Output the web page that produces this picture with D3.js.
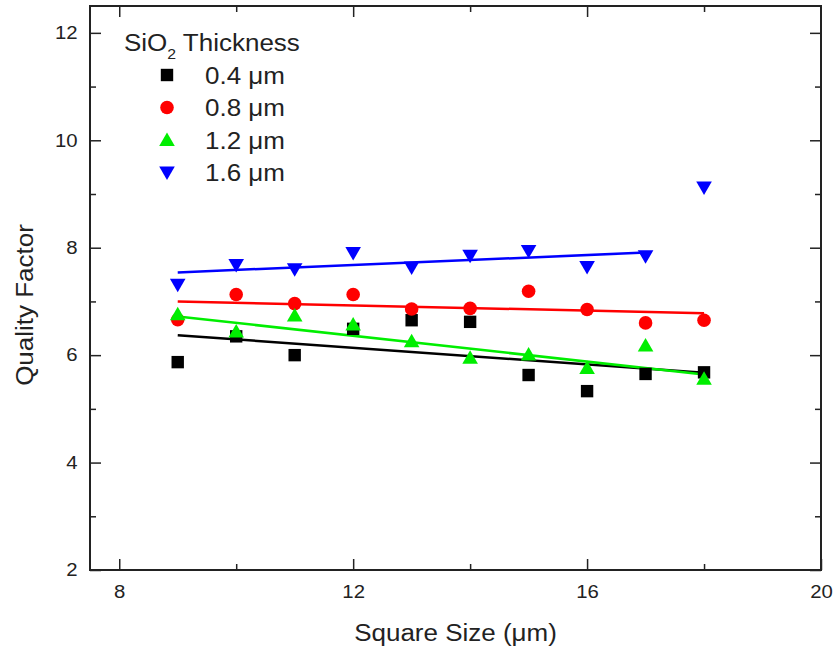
<!DOCTYPE html>
<html>
<head>
<meta charset="utf-8">
<script src="https://cdn.jsdelivr.net/npm/d3@7"></script>
<style>
	body { margin: 0; background: #fff; }
	text { font-family: "Liberation Sans", Arial, sans-serif; fill: #222; }
</style>
</head>
<body>
<svg id="chart" width="834" height="650"></svg>
<script>
// square sizes (x) shared by all series
var sizes = [9, 10, 11, 12, 13, 14, 15, 16, 17, 18];

// quality factor per SiO2 thickness
var q04 = [5.87, 6.35, 6.00, 6.49, 6.65, 6.62, 5.63, 5.33, 5.65, 5.68];
var q08 = [6.66, 7.13, 6.96, 7.13, 6.86, 6.87, 7.19, 6.85, 6.60, 6.65];
var q12 = [6.76, 6.44, 6.74, 6.57, 6.26, 5.95, 6.01, 5.76, 6.18, 5.56];
var q16 = [7.31, 7.68, 7.60, 7.90, 7.63, 7.85, 7.94, 7.64, 7.84, 9.12];

// linear fit end points: [x0, y0, x1, y1]
var fit04 = [9, 6.37, 18, 5.67];
var fit08 = [9, 7.00, 18, 6.78];
var fit12 = [9, 6.72, 18, 5.64];
var fit16 = [9, 7.54, 17, 7.91];

var legendLabels = ["0.4 μm", "0.8 μm", "1.2 μm", "1.6 μm"];
var colors = ["#000000", "#ff0000", "#00ee00", "#0000ff"];
var shapes = ["square", "circle", "up", "down"];

var xTicks = [8, 12, 16, 20];
var xMinor = [10, 14, 18];
var yTicks = [2, 4, 6, 8, 10, 12];
var yMinor = [3, 5, 7, 9, 11];

var series = [q04, q08, q12, q16].map(function(vals, i) {
	return {
		label: legendLabels[i],
		color: colors[i],
		shape: shapes[i],
		fit: [fit04, fit08, fit12, fit16][i],
		points: sizes.map(function(s, j) { return {x: s, y: vals[j]}; })
	};
});

var mLeft = 90, mRight = 821, mTop = 6, mBottom = 570;
var stretch = 1.13; // the original's lettering is a bit wider than Arial

var x = d3.scaleLinear().domain([7.5, 20]).range([mLeft, mRight]);
var y = d3.scaleLinear().domain([2, 12.5]).range([mBottom, mTop]);

var svg = d3.select("#chart");

function symbolPath(shape) {
	if (shape == "square") return "M-6.2,-6.2h12.4v12.4h-12.4z";
	if (shape == "circle") return d3.symbol().type(d3.symbolCircle).size(145)();
	if (shape == "up") return "M0,-7.5L7.8,6L-7.8,6Z";
	return "M0,7.5L7.8,-6L-7.8,-6Z";
}

// fit lines
series.forEach(function(s) {
	svg.append("line")
		.attr("x1", x(s.fit[0])).attr("y1", y(s.fit[1]))
		.attr("x2", x(s.fit[2])).attr("y2", y(s.fit[3]))
		.attr("stroke", s.color)
		.attr("stroke-width", 2.5);
});

// points
series.forEach(function(s) {
	svg.append("g").selectAll("path")
		.data(s.points)
		.enter().append("path")
		.attr("d", symbolPath(s.shape))
		.attr("transform", function(d) { return "translate(" + x(d.x) + "," + y(d.y) + ")"; })
		.attr("fill", s.color);
});

// axes, ticks pointing inward on all four sides
function styleAxis(g) {
	g.select(".domain").remove();
	g.selectAll("line").attr("stroke", "#222").attr("stroke-width", 1.5);
	g.selectAll("text").attr("font-size", 18).attr("fill", "#222")
		.attr("transform", "scale(" + stretch + ",1)")
		.style("font-family", "'Liberation Sans', Arial, sans-serif");
}

svg.append("g").attr("transform", "translate(0," + mBottom + ")")
	.call(d3.axisBottom(x).tickValues(xTicks).tickSize(-11).tickPadding(15).tickFormat(d3.format("d")))
	.call(styleAxis);
svg.append("g").attr("transform", "translate(0," + mBottom + ")")
	.call(d3.axisBottom(x).tickValues(xMinor).tickSize(-6).tickFormat(""))
	.call(styleAxis);
svg.append("g").attr("transform", "translate(0," + mTop + ")")
	.call(d3.axisTop(x).tickValues(xTicks.slice(0, 3)).tickSize(-11).tickFormat(""))
	.call(styleAxis);
svg.append("g").attr("transform", "translate(0," + mTop + ")")
	.call(d3.axisTop(x).tickValues(xMinor).tickSize(-6).tickFormat(""))
	.call(styleAxis);

svg.append("g").attr("transform", "translate(" + mLeft + ",0)")
	.call(d3.axisLeft(y).tickValues(yTicks).tickSize(-11).tickPadding(11).tickFormat(d3.format("d")))
	.call(styleAxis);
svg.append("g").attr("transform", "translate(" + mLeft + ",0)")
	.call(d3.axisLeft(y).tickValues(yMinor).tickSize(-6).tickFormat(""))
	.call(styleAxis);
svg.append("g").attr("transform", "translate(" + mRight + ",0)")
	.call(d3.axisRight(y).tickValues(yTicks).tickSize(-11).tickFormat(""))
	.call(styleAxis);
svg.append("g").attr("transform", "translate(" + mRight + ",0)")
	.call(d3.axisRight(y).tickValues(yMinor).tickSize(-6).tickFormat(""))
	.call(styleAxis);

// frame
svg.append("rect")
	.attr("x", mLeft).attr("y", mTop)
	.attr("width", mRight - mLeft).attr("height", mBottom - mTop)
	.attr("fill", "none")
	.attr("stroke", "#222")
	.attr("stroke-width", 2);

// axis titles
svg.append("text")
	.attr("transform", "translate(" + (mLeft + mRight) / 2 + ",641) scale(" + stretch + ",1)")
	.attr("text-anchor", "middle")
	.attr("font-size", 23)
	.text("Square Size (μm)");
svg.append("text")
	.attr("transform", "translate(33,305) rotate(-90) scale(" + stretch + ",1)")
	.attr("text-anchor", "middle")
	.attr("font-size", 23)
	.text("Quality Factor");

// legend
var legend = svg.append("g");
var title = legend.append("text")
	.attr("transform", "translate(124,51) scale(" + stretch + ",1)")
	.attr("font-size", 23);
title.append("tspan").text("SiO");
title.append("tspan").attr("font-size", 14).attr("dy", 8).text("2");
title.append("tspan").attr("dy", -8).text(" Thickness");

var rows = legend.selectAll("g.row")
	.data(series)
	.enter().append("g")
	.attr("class", "row")
	.attr("transform", function(d, i) { return "translate(0," + (75 + i * 32.5) + ")"; });
rows.append("path")
	.attr("d", function(d) { return symbolPath(d.shape); })
	.attr("transform", "translate(167,0)")
	.attr("fill", function(d) { return d.color; });
rows.append("text")
	.attr("transform", "translate(205,8.5) scale(" + stretch + ",1)")
	.attr("font-size", 23)
	.text(function(d) { return d.label; });
</script>
</body>
</html>
